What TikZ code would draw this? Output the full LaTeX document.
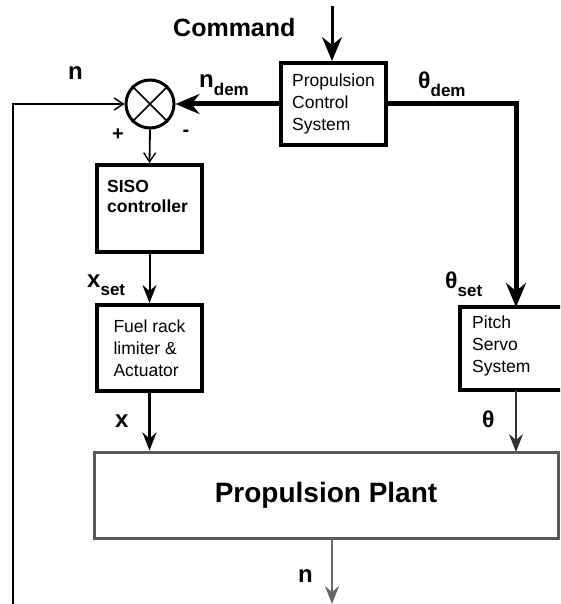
\documentclass[tikz,border=0pt]{standalone}
\usepackage{fontspec}
\setmainfont{Liberation Sans}
\usetikzlibrary{arrows.meta}
\begin{document}
\begin{tikzpicture}[x=1pt,y=-1pt,
  blk/.style={draw=black,line width=4pt,fill=white,inner sep=0pt},
  small/.style={font=\fontsize{17.5}{22}\selectfont,align=left,inner sep=0pt},
  lbl/.style={font=\fontsize{24}{24}\selectfont\bfseries,inner sep=0pt,anchor=base west},
  bigtip/.style={-{Stealth[length=24pt,width=20pt,inset=8pt]}},
  midtip/.style={-{Stealth[length=18pt,width=14pt,inset=6pt]}},
  opentip/.style={-{Straight Barb[length=9pt,width=12pt,line width=1.4pt]}}
]
\useasboundingbox (0,0) rectangle (560,604);
\clip (0,0) rectangle (560,604);
\newcommand{\subs}[1]{\raisebox{-8pt}{\fontsize{17}{17}\selectfont\bfseries #1}}

% blocks
\node[blk,minimum width=105pt,minimum height=82pt,small] (pcs) at (333.5,104) {Propulsion\\Control\\System};
\node[blk,minimum width=105pt,minimum height=87pt] (siso) at (149.5,208.5) {};
\node[small,font=\fontsize{17.5}{20}\selectfont\bfseries,anchor=north west] (sisotxt) at (107,180) {SISO\\controller};
\node[blk,minimum width=105pt,minimum height=86pt,small] (fuel) at (149.5,348) {Fuel rack\\limiter \&\\Actuator};
\node[inner sep=0pt,minimum width=102pt,minimum height=83pt,anchor=north west] (pitch) at (460,307) {};
\draw[line width=4pt,line join=miter] (pitch.north east) -- (pitch.north west) -- (pitch.south west) -- (pitch.south east);
\node[small,anchor=west] (pitchtxt) at (472,346) {Pitch\\Servo\\System};
\node[draw=black!65,line width=3pt,fill=white,minimum width=464pt,minimum height=86pt,inner sep=0pt,font=\fontsize{28}{28}\selectfont\bfseries] (plant) at (326,495) {Propulsion Plant};

% summing junction
\node[draw=black,line width=3pt,circle,minimum size=48pt,inner sep=0pt] (sum) at (150,104) {};
\draw[line width=1.6pt] (sum.north east) -- (sum.south west) (sum.north west) -- (sum.south east);

% coordinates
\coordinate (cmdtop) at (332,6);
\coordinate (thcorner) at (516,104);
\coordinate (thin) at (516,307);
\coordinate (thout) at (516,390);
\coordinate (thplant) at (516,452);
\coordinate (nout) at (332,538);
\coordinate (nend) at (332,604);
\coordinate (fbbot) at (13,620);
\coordinate (fbtop) at (13,104);

% connectors
\draw[line width=3pt,bigtip] (cmdtop) -- (cmdtop |- pcs.north);
\draw[line width=5pt,bigtip] (pcs.west) -- (sum.east);
\draw[line width=5pt,bigtip] (pcs.east) -- (thcorner) -- (thin);
\draw[line width=1.8pt,opentip] (sum.south) -- (siso.north);
\draw[line width=2pt,midtip] (siso.south) -- (fuel.north);
\draw[line width=3pt,midtip] (fuel.south) -- (fuel.south |- plant.north);
\draw[line width=1.5pt,black!80,midtip] (thout) -- (thplant);
\draw[line width=2pt,black!60,midtip] (nout) -- (nend);
\draw[line width=2.5pt,opentip] (fbbot) -- (fbtop) -- (sum.west);

% labels
\node[lbl,font=\fontsize{25}{25}\selectfont\bfseries] (cmd) at (173,37) {Command};
\node[lbl] (nfb) at (68,80) {n};
\node[lbl] (ndem) at (199,88) {n\subs{dem}};
\node[lbl,font=\fontsize{23}{23}\selectfont\bfseries] (thdem) at (418,89) {θ\subs{dem}};
\node[lbl,font=\fontsize{23}{23}\selectfont\bfseries] (thset) at (445,288) {θ\subs{set}};
\node[lbl] (xset) at (87,287) {x\subs{set}};
\node[lbl] (xl) at (115,427) {x};
\node[lbl,font=\fontsize{23}{23}\selectfont\bfseries] (thl) at (482,427) {θ};
\node[lbl] (nl) at (298,582) {n};
\node[font=\fontsize{20}{20}\selectfont\bfseries,inner sep=0pt] (plus) at (118,135) {+};
\node[font=\fontsize{20}{20}\selectfont\bfseries,inner sep=0pt] (minus) at (186,133) {-};
\end{tikzpicture}
\end{document}
